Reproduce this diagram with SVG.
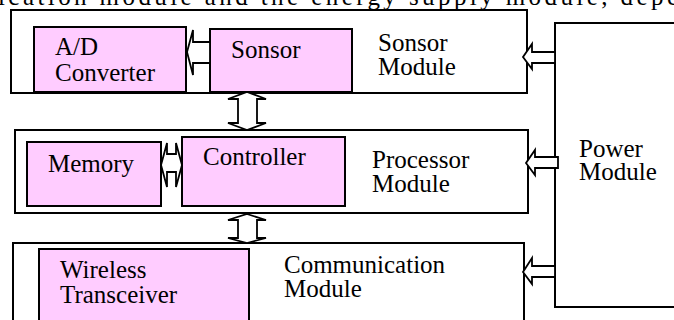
<svg xmlns="http://www.w3.org/2000/svg" width="674" height="320" viewBox="0 0 674 320">
  <style>
    .box { fill: #ffffff; stroke: #000000; stroke-width: 2; }
    .unit { fill: #ffccff; stroke: #000000; stroke-width: 2; }
    .arrow { fill: #ffffff; stroke: #000000; stroke-width: 1.8; stroke-linejoin: miter; }
    text { font-family: "Liberation Serif", "Times New Roman", serif; font-size: 25px; fill: #000000; }
  </style>
  <rect width="674" height="320" fill="#ffffff"/>

  <!-- running text line above the figure -->
  <text x="-2" y="5" font-size="27" textLength="680" lengthAdjust="spacing">ication module and the energy supply module, depe</text>

  <g id="sensor-module">
    <rect class="box" x="11" y="10" width="516" height="83"/>
    <text x="378" y="51">Sonsor<tspan x="378" dy="24">Module</tspan></text>
  </g>
  <g id="ad-converter">
    <rect class="unit" x="34" y="27" width="152" height="65"/>
    <text x="55" y="55">A/D<tspan x="55" dy="26">Converter</tspan></text>
  </g>
  <g id="sensor">
    <rect class="unit" x="210" y="29" width="142" height="63"/>
    <text x="231" y="58">Sonsor</text>
  </g>

  <g id="processor-module">
    <rect class="box" x="15" y="130" width="513" height="83"/>
    <text x="372" y="168">Processor<tspan x="372" dy="24">Module</tspan></text>
  </g>
  <g id="memory">
    <rect class="unit" x="27" y="142" width="134" height="64"/>
    <text x="48" y="172">Memory</text>
  </g>
  <g id="controller">
    <rect class="unit" x="182" y="137" width="163" height="69"/>
    <text x="203" y="165">Controller</text>
  </g>

  <g id="communication-module">
    <rect class="box" x="13" y="243" width="511" height="90"/>
    <text x="284" y="273">Communication<tspan x="284" dy="24">Module</tspan></text>
  </g>
  <g id="wireless-transceiver">
    <rect class="unit" x="39" y="249" width="210" height="80"/>
    <text x="60" y="278">Wireless<tspan x="60" dy="25">Transceiver</tspan></text>
  </g>

  <g id="power-module">
    <rect class="box" x="555" y="23" width="130" height="284"/>
    <text x="579" y="157">Power<tspan x="579" dy="23">Module</tspan></text>
  </g>

  <g id="connectors">
    <!-- sensor to A/D converter -->
    <polygon class="arrow" points="210,42 193,42 193,30 187,52 193,75 193,63 210,63"/>
    <!-- sensor module <-> processor module -->
    <polygon class="arrow" points="247,92 266,99 257,99 257,123 266,123 247,130 228,123 238,123 238,99 228,99"/>
    <!-- memory <-> controller -->
    <polygon class="arrow" points="161,165 167,143 167,154 176,154 176,143 182,165 176,187 176,172 167,172 167,187"/>
    <!-- processor module <-> communication module -->
    <polygon class="arrow" points="247,214 266,220 257,220 257,238 266,238 247,243 228,238 238,238 238,220 228,220"/>
    <!-- power feeds -->
    <polygon class="arrow" points="555,52 532,52 532,44 523,57 532,69 532,63 555,63"/>
    <polygon class="arrow" points="558,157 535,157 535,150 526,163 535,175 535,168 558,168"/>
    <polygon class="arrow" points="555,266 532,266 532,258 523,272 532,284 532,277 555,277"/>
  </g>
</svg>
